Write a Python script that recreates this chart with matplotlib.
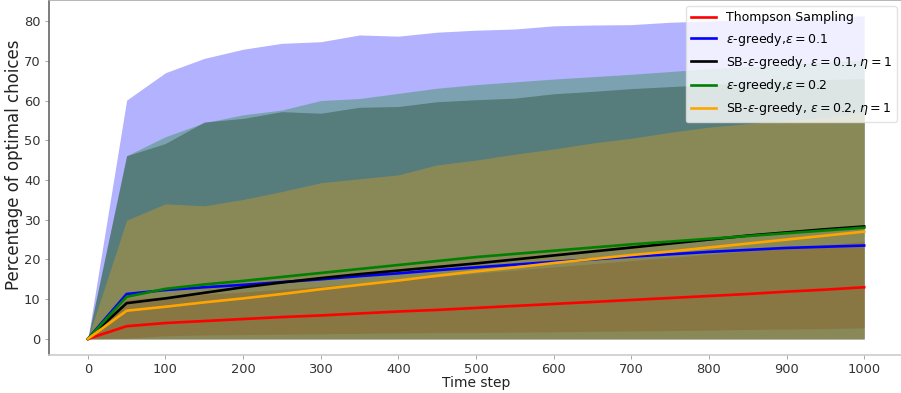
import matplotlib
matplotlib.use("Agg")
import matplotlib.pyplot as plt

# time steps (every 50)
steps = list(range(0, 1001, 50))

# mean percentage of optimal choices
ts_mean = [0, 3.2, 4.0, 4.5, 5.0, 5.5, 5.9, 6.4, 6.9, 7.3, 7.8, 8.3, 8.8, 9.3, 9.8, 10.3, 10.8, 11.3, 11.9, 12.4, 13.0]
eg1_mean = [0, 11.3, 12.3, 13.0, 13.6, 14.3, 15.0, 15.8, 16.5, 17.3, 18.0, 18.7, 19.4, 20.0, 20.7, 21.3, 21.9, 22.4, 22.9, 23.2, 23.5]
sb1_mean = [0, 9.0, 10.2, 11.6, 13.0, 14.2, 15.3, 16.3, 17.2, 18.1, 19.0, 20.0, 21.0, 22.0, 23.0, 24.0, 25.0, 26.0, 26.8, 27.6, 28.3]
eg2_mean = [0, 10.6, 12.6, 13.7, 14.6, 15.6, 16.6, 17.6, 18.6, 19.6, 20.6, 21.4, 22.2, 23.0, 23.8, 24.5, 25.2, 25.9, 26.6, 27.3, 28.0]
sb2_mean = [0, 7.1, 8.1, 9.2, 10.2, 11.3, 12.5, 13.6, 14.7, 15.9, 17.0, 18.0, 19.1, 20.1, 21.1, 22.0, 23.0, 24.0, 25.0, 26.0, 27.0]

# shaded bands (lower / upper)
ts_low = [0, 0.2, 0.8, 1.0, 1.1, 1.2, 1.3, 1.4, 1.5, 1.6, 1.6, 1.7, 1.8, 1.9, 2.0, 2.1, 2.2, 2.4, 2.5, 2.6, 2.8]
ts_high = [0, 10.0, 10.6, 11.2, 11.8, 12.5, 13.2, 14.0, 14.8, 15.6, 16.5, 17.3, 18.1, 18.9, 19.7, 20.5, 21.3, 22.1, 22.9, 23.7, 24.5]
eg1_low = [0] * 21
eg1_high = [0, 60.1, 67.0, 70.6, 72.9, 74.4, 74.8, 76.5, 76.2, 77.2, 77.7, 78.0, 78.8, 79.0, 79.1, 79.7, 80.0, 80.5, 80.8, 81.0, 81.3]
sb1_low = [0] * 21
sb1_high = [0, 46.1, 49.2, 54.6, 55.5, 57.2, 56.8, 58.3, 58.5, 59.7, 60.2, 60.6, 61.7, 62.3, 63.0, 63.5, 64.0, 64.5, 65.0, 65.3, 65.5]
eg2_low = [0] * 21
eg2_high = [0, 46.1, 50.9, 54.4, 56.4, 57.6, 60.0, 60.5, 61.8, 63.1, 64.0, 64.7, 65.4, 66.0, 66.6, 67.3, 68.0, 68.5, 69.0, 69.7, 70.2]
sb2_low = [0] * 21
sb2_high = [0, 29.9, 34.0, 33.5, 35.1, 37.1, 39.3, 40.3, 41.3, 43.8, 45.0, 46.5, 47.8, 49.3, 50.5, 52.0, 53.3, 54.2, 55.0, 55.8, 57.0]

labels = [
    "Thompson Sampling",
    r"$\varepsilon$-greedy,$\varepsilon=0.1$",
    r"SB-$\varepsilon$-greedy, $\varepsilon=0.1$, $\eta=1$",
    r"$\varepsilon$-greedy,$\varepsilon=0.2$",
    r"SB-$\varepsilon$-greedy, $\varepsilon=0.2$, $\eta=1$",
]
colors = ["red", "blue", "black", "green", "orange"]
means = [ts_mean, eg1_mean, sb1_mean, eg2_mean, sb2_mean]
lows = [ts_low, eg1_low, sb1_low, eg2_low, sb2_low]
highs = [ts_high, eg1_high, sb1_high, eg2_high, sb2_high]

fig = plt.figure(figsize=(9.01, 3.93), dpi=100)
ax = fig.add_axes([49 / 901, 38 / 393, 854 / 901, 355 / 393])

# bands first, lines on top
for lo, hi, c in zip(lows, highs, colors):
    ax.fill_between(steps, lo, hi, color=c, alpha=0.3, linewidth=0)
for m, c, lab in zip(means, colors, labels):
    ax.plot(steps, m, color=c, lw=1.9, label=lab)

ax.set_xlim(-50, 1050)
ax.set_ylim(-4.05, 85.3)
ax.set_xticks(range(0, 1001, 100))
ax.set_yticks(range(0, 81, 10))
ax.tick_params(labelsize=9.4, colors="#333333", length=3, width=0.6, pad=3)
ax.tick_params(axis="both", color="#999999")
ax.set_xlabel("Time step", fontsize=10, color="#222222", labelpad=0)
ax.set_ylabel("Percentage of optimal choices", fontsize=12, color="#222222")
ax.yaxis.set_label_coords(-0.030, 0.535)

ax.spines["left"].set_color("#666666")
ax.spines["bottom"].set_color("#cccccc")
ax.spines["top"].set_color("#aaaaaa")
ax.spines["right"].set_visible(False)
for s in ax.spines.values():
    s.set_linewidth(1.2)

ax.legend(loc="upper right", fontsize=9, framealpha=0.8, edgecolor="#dddddd")

fig.savefig("out.png", dpi=100)
